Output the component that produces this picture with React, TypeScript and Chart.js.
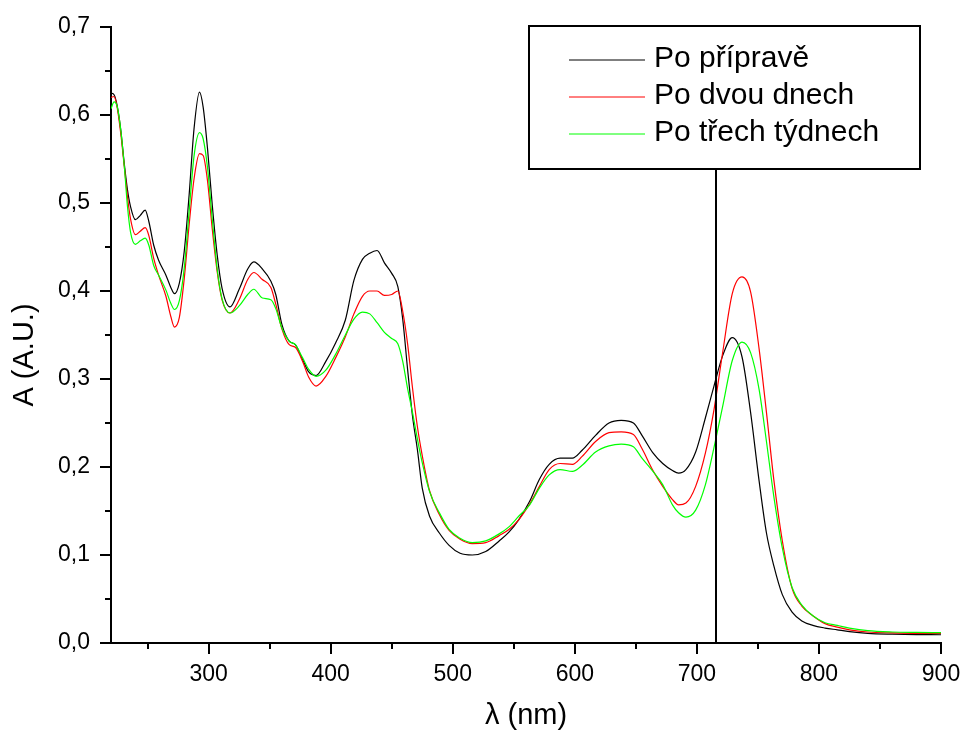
import React, { useEffect, useRef } from 'react';
import { Chart, registerables } from 'chart.js';

Chart.register(...registerables);

// ---------- data ----------
const wavelengths = [
  220, 222.5, 225, 228, 231, 233.5, 236, 240, 244, 248,
  251, 255, 259, 265, 269, 272, 276, 280, 284, 288,
  292.5, 295.5, 299, 303, 307, 311, 317.5, 325, 332, 337,
  344, 351, 355, 360, 366, 371, 377, 382, 388, 396,
  404, 412, 419, 426, 432, 438, 444, 450, 455, 459,
  463, 467, 471, 475, 481, 489, 497, 506, 516, 527,
  538, 546, 554, 563, 571, 579, 588, 598, 606, 617,
  628, 638, 648, 655, 664, 672, 680, 685, 691, 699,
  707, 714, 721, 729, 737, 744, 751, 757, 763, 770,
  778, 786, 795, 805, 815, 825, 840, 860, 880, 900,
];

const poPriprave = [
  0.625, 0.623, 0.611, 0.583, 0.543, 0.515, 0.496, 0.481, 0.486, 0.492,
  0.479, 0.452, 0.435, 0.418, 0.404, 0.397, 0.409, 0.445, 0.509, 0.584,
  0.626, 0.609, 0.563, 0.497, 0.441, 0.403, 0.382, 0.402, 0.425, 0.433,
  0.425, 0.411, 0.396, 0.362, 0.343, 0.339, 0.322, 0.308, 0.304, 0.320,
  0.341, 0.367, 0.412, 0.436, 0.443, 0.446, 0.432, 0.420, 0.405, 0.368,
  0.311, 0.258, 0.220, 0.176, 0.144, 0.125, 0.111, 0.102, 0.100, 0.104,
  0.116, 0.126, 0.140, 0.161, 0.186, 0.203, 0.210, 0.210, 0.219, 0.236,
  0.250, 0.253, 0.250, 0.236, 0.216, 0.204, 0.196, 0.193, 0.197, 0.217,
  0.256, 0.292, 0.326, 0.347, 0.325, 0.262, 0.184, 0.125, 0.088, 0.055,
  0.035, 0.025, 0.020, 0.017, 0.015, 0.013, 0.011, 0.010, 0.0095, 0.0094,
];

const poDvouDnech = [
  0.620, 0.621, 0.609, 0.579, 0.540, 0.507, 0.482, 0.464, 0.468, 0.472,
  0.463, 0.437, 0.418, 0.394, 0.371, 0.359, 0.370, 0.414, 0.475, 0.527,
  0.556, 0.554, 0.526, 0.470, 0.422, 0.390, 0.375, 0.390, 0.413, 0.421,
  0.413, 0.404, 0.385, 0.357, 0.339, 0.336, 0.320, 0.302, 0.292, 0.303,
  0.324, 0.348, 0.374, 0.394, 0.400, 0.400, 0.395, 0.396, 0.400, 0.377,
  0.340, 0.290, 0.246, 0.213, 0.173, 0.146, 0.128, 0.118, 0.113, 0.114,
  0.122, 0.129, 0.140, 0.158, 0.178, 0.197, 0.204, 0.203, 0.212, 0.229,
  0.239, 0.240, 0.237, 0.221, 0.196, 0.178, 0.163, 0.157, 0.159, 0.178,
  0.216, 0.265, 0.329, 0.397, 0.416, 0.399, 0.334, 0.262, 0.186, 0.116,
  0.062, 0.042, 0.031, 0.022, 0.018, 0.015, 0.0125, 0.0115, 0.011, 0.011,
];

const poTrechTydnech = [
  0.607, 0.615, 0.610, 0.583, 0.540, 0.496, 0.467, 0.453, 0.457, 0.460,
  0.452, 0.429, 0.418, 0.401, 0.386, 0.379, 0.389, 0.426, 0.490, 0.553,
  0.580, 0.573, 0.541, 0.481, 0.425, 0.391, 0.375, 0.383, 0.396, 0.402,
  0.392, 0.390, 0.380, 0.358, 0.343, 0.339, 0.324, 0.311, 0.303, 0.310,
  0.328, 0.350, 0.368, 0.376, 0.374, 0.364, 0.353, 0.346, 0.340, 0.320,
  0.289, 0.262, 0.232, 0.205, 0.172, 0.148, 0.129, 0.119, 0.114, 0.116,
  0.124, 0.132, 0.144, 0.157, 0.176, 0.191, 0.197, 0.195, 0.202, 0.217,
  0.224, 0.226, 0.223, 0.210, 0.195, 0.180, 0.157, 0.148, 0.143, 0.151,
  0.180, 0.222, 0.268, 0.321, 0.342, 0.330, 0.288, 0.229, 0.167, 0.108,
  0.063, 0.043, 0.031, 0.023, 0.020, 0.017, 0.014, 0.0125, 0.012, 0.0117,
];

const seriesLabels = ['Po přípravě', 'Po dvou dnech', 'Po třech týdnech'];
const seriesColors = ['#000000', '#ff0000', '#00ff00'];

const xTickValues = [250, 300, 350, 400, 450, 500, 550, 600, 650, 700, 750, 800, 850, 900];
const yTickValues = [0, 0.05, 0.1, 0.15, 0.2, 0.25, 0.3, 0.35, 0.4, 0.45, 0.5, 0.55, 0.6, 0.65, 0.7];
const markerWavelength = 715.5;
const xTitle = 'λ (nm)';
const yTitle = 'A (A.U.)';

const FONT = 'Arial, "Liberation Sans", Helvetica, sans-serif';

const isMajorY = (v: number) => Math.round(v * 20) % 2 === 0;
const isMajorX = (v: number) => Math.round(v) % 100 === 0;

const decorPlugin = {
  id: 'decor',
  afterDraw(chart: any) {
    const { ctx, chartArea, scales } = chart;
    const xs = scales.x;
    const ys = scales.y;
    ctx.save();
    ctx.strokeStyle = '#000';
    ctx.lineWidth = 2;
    ctx.beginPath();
    xTickValues.forEach((v) => {
      const px = Math.round(xs.getPixelForValue(v));
      const len = isMajorX(v) ? 11 : 6;
      ctx.moveTo(px, chartArea.bottom);
      ctx.lineTo(px, chartArea.bottom + len);
    });
    yTickValues.forEach((v) => {
      const py = Math.round(ys.getPixelForValue(v));
      const len = isMajorY(v) ? 11 : 6;
      ctx.moveTo(chartArea.left - len, py);
      ctx.lineTo(chartArea.left, py);
    });
    ctx.stroke();

    // legend box
    const box = { left: 529, top: 26, right: 920, bottom: 169 };
    ctx.fillStyle = '#fff';
    ctx.fillRect(box.left, box.top, box.right - box.left, box.bottom - box.top);
    ctx.lineWidth = 2;
    ctx.strokeRect(box.left, box.top, box.right - box.left, box.bottom - box.top);

    // marker line
    const mx = Math.round(xs.getPixelForValue(markerWavelength));
    ctx.beginPath();
    ctx.moveTo(mx, box.bottom);
    ctx.lineTo(mx, chartArea.bottom);
    ctx.stroke();

    // legend entries
    ctx.font = `30px ${FONT}`;
    ctx.textBaseline = 'middle';
    ctx.textAlign = 'left';
    chart.data.datasets.forEach((ds: any, i: number) => {
      const y = 60 + i * 37;
      ctx.strokeStyle = ds.borderColor;
      ctx.lineWidth = 1;
      ctx.beginPath();
      ctx.moveTo(569, y);
      ctx.lineTo(645, y);
      ctx.stroke();
      ctx.fillStyle = '#000';
      ctx.fillText(ds.label, 654, y - 1);
    });

    // y axis title
    ctx.save();
    ctx.translate(25, 355);
    ctx.rotate(-Math.PI / 2);
    ctx.textAlign = 'center';
    ctx.textBaseline = 'middle';
    ctx.fillStyle = '#000';
    ctx.font = `29px ${FONT}`;
    ctx.fillText(yTitle, 0, 0);
    ctx.restore();

    ctx.restore();
  },
};

export default function App() {
  const canvasRef = useRef<HTMLCanvasElement | null>(null);

  useEffect(() => {
    const canvas = canvasRef.current;
    if (!canvas) return;
    const seriesValues = [poPriprave, poDvouDnech, poTrechTydnech];
    const chart = new Chart(canvas, {
      type: 'line',
      data: {
        datasets: seriesValues.map((vals, i) => ({
          label: seriesLabels[i],
          data: wavelengths.map((x, j) => ({ x, y: vals[j] })),
          borderColor: seriesColors[i],
          backgroundColor: seriesColors[i],
          borderWidth: 1.2,
          pointRadius: 0,
          fill: false,
          cubicInterpolationMode: 'monotone' as const,
          order: 2 - i,
        })),
      },
      options: {
        responsive: false,
        animation: false,
        devicePixelRatio: 1,
        layout: { padding: { left: 0, right: 22, top: 27, bottom: 0 } },
        plugins: {
          legend: { display: false },
          tooltip: { enabled: false },
          title: { display: false },
        },
        scales: {
          x: {
            type: 'linear',
            min: 220,
            max: 900,
            afterBuildTicks: (scale: any) => {
              scale.ticks = xTickValues.map((v) => ({ value: v }));
            },
            afterFit: (scale: any) => {
              scale.height = 92;
              scale.paddingLeft = 0;
              scale.paddingRight = 0;
              scale.paddingTop = 0;
              scale.paddingBottom = 0;
            },
            grid: { display: false, drawTicks: false },
            border: { display: true, color: '#000', width: 2 },
            ticks: {
              autoSkip: false,
              maxRotation: 0,
              minRotation: 0,
              padding: 18,
              color: '#000',
              font: { family: FONT, size: 23 },
              callback: (v: any) => (isMajorX(Number(v)) ? String(Math.round(Number(v))) : ''),
            },
            title: {
              display: true,
              text: xTitle,
              color: '#000',
              font: { family: FONT, size: 29 },
              padding: { top: 0, bottom: 2 },
            },
          },
          y: {
            type: 'linear',
            min: 0,
            max: 0.7,
            afterBuildTicks: (scale: any) => {
              scale.ticks = yTickValues.map((v) => ({ value: v }));
            },
            afterFit: (scale: any) => {
              scale.width = 111;
              scale.paddingLeft = 0;
              scale.paddingRight = 0;
              scale.paddingTop = 0;
              scale.paddingBottom = 0;
            },
            grid: { display: false, drawTicks: false },
            border: { display: true, color: '#000', width: 2 },
            ticks: {
              autoSkip: false,
              padding: 21,
              color: '#000',
              font: { family: FONT, size: 23 },
              callback: (v: any) => (isMajorY(Number(v)) ? Number(v).toFixed(1).replace('.', ',') : ''),
            },
          },
        },
      },
      plugins: [decorPlugin],
    });
    return () => chart.destroy();
  }, []);

  return (
    <div style={{ position: 'absolute', left: 0, top: 0, width: 963, height: 735, background: '#fff' }}>
      <canvas ref={canvasRef} width={963} height={735} style={{ display: 'block', width: 963, height: 735 }} />
    </div>
  );
}
